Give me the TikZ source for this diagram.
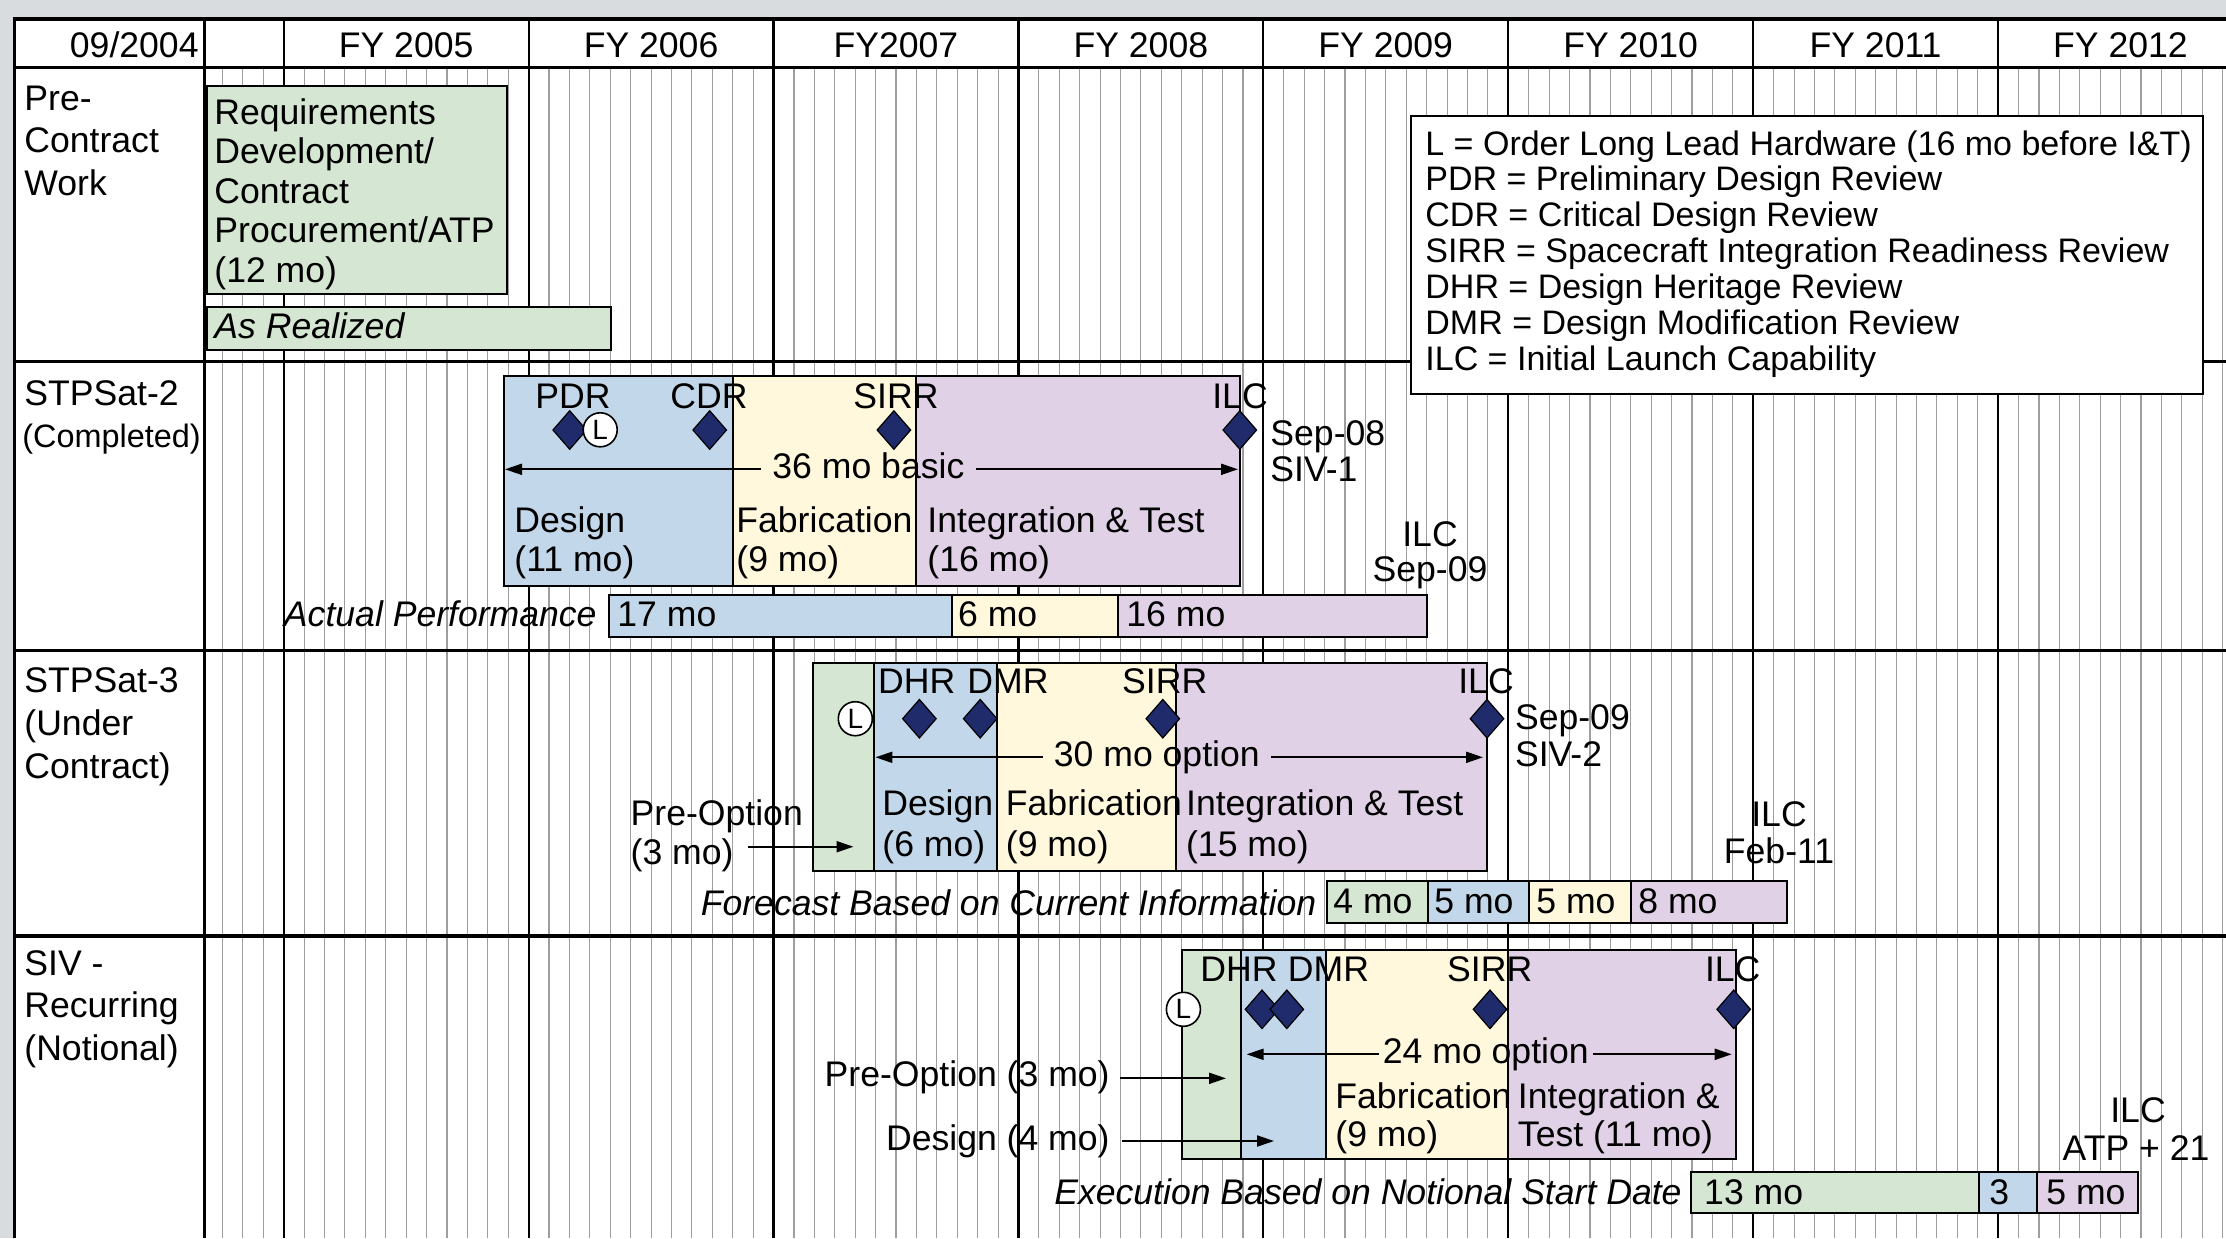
\documentclass[tikz,border=0pt]{standalone}
\usepackage{fontspec}
\setmainfont{Liberation Sans}
\usetikzlibrary{arrows.meta,shapes.geometric}
\definecolor{pagegray}{HTML}{D9DCDF}
\definecolor{gfill}{HTML}{D5E6D3}
\definecolor{bfill}{HTML}{C2D7E9}
\definecolor{yfill}{HTML}{FFF8DC}
\definecolor{pfill}{HTML}{E0D1E6}
\definecolor{navy}{HTML}{1F2B6B}
\newcommand\fsz{\fontsize{17.8}{21}\selectfont}
\newcommand\lgf{\fontsize{17}{20}\selectfont}
\newcommand\lfz{\fontsize{14}{14}\selectfont}
\begin{document}
\begin{tikzpicture}[x=0.5pt,y=-0.5pt,
  txt/.style={inner sep=0pt, anchor=base west, font=\fsz},
  ctxt/.style={inner sep=0pt, anchor=base, font=\fsz},
  rtxt/.style={inner sep=0pt, anchor=base east, font=\fsz},
  ittxt/.style={inner sep=0pt, anchor=base east, font=\fsz\itshape},
  phase/.style={draw=black, line width=1pt},
  mline/.style={draw=black!38, line width=0.55pt},
  fyline/.style={draw=black, line width=1.1pt},
  rule/.style={draw=black, line width=1.6pt},
  milestone/.style={diamond, draw=black, fill=navy, line width=0.6pt, minimum width=17pt, minimum height=19.5pt, inner sep=0pt},
  llh/.style={circle, draw=black, fill=white, line width=0.8pt, minimum size=17pt, inner sep=0pt, font=\lfz},
  arr/.style={-{Triangle[length=8.5pt,width=5.5pt]}, line width=1pt}
]
\useasboundingbox (0,0) rectangle (2226,1238);
\clip (0,0) rectangle (2226,1238);
% background and grid
\fill[pagegray] (0,0) rectangle (2226,1238);
\fill[white] (14.5,18.5) rectangle (2226,1238);
\foreach \m in {-3,...,95} \draw[mline] ({283.7+20.41*\m},68) -- ({283.7+20.41*\m},1238);
\foreach \k in {0,...,7} \draw[fyline] ({283.7+244.9*\k},18.5) -- ({283.7+244.9*\k},1238);
\draw[rule] (204.5,18.5) -- (204.5,1238);
\foreach \y in {67.5,361.5,650.8,936} \draw[rule] (14.5,\y) -- (2226,\y);
\draw[line width=2pt] (12.5,18.5) -- (2226,18.5);
\draw[line width=1.75pt] (14.5,17.5) -- (14.5,1238);
% header
\node[rtxt] (h0) at (199,57.3) {09/2004};
\foreach \t [count=\k from 0] in {FY 2005,FY 2006,FY2007,FY 2008,FY 2009,FY 2010,FY 2011,FY 2012}
  \node[ctxt] (h\k) at ({283.7+244.9*(\k+0.5)},57.3) {\t};
% row labels
\node[txt] (lab10) at (24,110) {Pre-};
\node[txt] (lab11) at (24,152.8) {Contract};
\node[txt] (lab12) at (24,195.6) {Work};
\node[txt] (lab20) at (24,405) {STPSat-2};
\node[txt, font=\fontsize{16.2}{20}\selectfont] (lab21) at (22,447) {(Completed)};
\node[txt] (lab30) at (24,692.3) {STPSat-3};
\node[txt] (lab31) at (24,735.3) {(Under};
\node[txt] (lab32) at (24,778.3) {Contract)};
\node[txt] (lab40) at (24,975) {SIV -};
\node[txt] (lab41) at (24,1017.5) {Recurring};
\node[txt] (lab42) at (24,1060) {(Notional)};
% legend
\node[draw, line width=1pt, fill=white, anchor=north west, inner sep=0pt, minimum width=396.15pt, minimum height=138.85pt] (legend) at (1409.5,115) {};
\foreach \t [count=\i from 0] in {L = Order Long Lead Hardware (16 mo before I\&T),PDR = Preliminary Design Review,CDR = Critical Design Review,SIRR = Spacecraft Integration Readiness Review,DHR = Design Heritage Review,DMR = Design Modification Review,ILC = Initial Launch Capability}
  \node[txt, font=\lgf] (lg\i) at (1425,{155+35.95*\i}) {\t};
% ---- Pre-contract ----
\draw[phase, fill=gfill] (207,86) rectangle (507,294);
\node[txt] (rq0) at (214,124) {Requirements};
\node[txt] (rq1) at (214,163.5) {Development/};
\node[txt] (rq2) at (214,203) {Contract};
\node[txt] (rq3) at (214,242.5) {Procurement/ATP};
\node[txt] (rq4) at (214,282) {(12 mo)};
\draw[phase, fill=gfill] (207,307) rectangle (611,350);
\node[txt, font=\fsz\itshape] (asr) at (214,338) {As Realized};
% ---- STPSat-2 ----
\draw[phase, fill=bfill] (504,376) rectangle (733,586);
\draw[phase, fill=yfill] (733,376) rectangle (916,586);
\draw[phase, fill=pfill] (916,376) rectangle (1240,586);
\node[milestone] (pdr2) at (569.7,430) {};
\node[llh] (l2) at (600.2,429.8) {L};
\node[milestone] (cdr2) at (709.7,430) {};
\node[milestone] (sirr2) at (893.9,430) {};
\node[milestone] (ilc2) at (1239.8,430) {};
\node[ctxt] (pdr2t) at (573,408) {PDR};
\node[ctxt] (cdr2t) at (709,408) {CDR};
\node[ctxt] (sirr2t) at (896,408) {SIRR};
\node[ctxt] (ilc2t) at (1240,408) {ILC};
\coordinate (s2L) at (505,469.3);
\coordinate (s2R) at (1238,469.3);
\node[ctxt, inner xsep=5.5pt] (s2a) at (868.4,478) {36 mo basic};
\draw[arr] (s2a.west |- s2L) -- (s2L);
\draw[arr] (s2a.east |- s2R) -- (s2R);
\node[txt] (s2d1) at (1270,445) {Sep-08};
\node[txt] (s2d2) at (1270,481.7) {SIV-1};
\node[txt] (s2p1) at (514,532.5) {Design};
\node[txt] (s2p2) at (514,571.5) {(11 mo)};
\node[txt] (s2f1) at (736,532.5) {Fabrication};
\node[txt] (s2f2) at (736,571.5) {(9 mo)};
\node[txt] (s2i1) at (927,532.5) {Integration \& Test};
\node[txt] (s2i2) at (927,571.5) {(16 mo)};
\node[ctxt] (s2c1) at (1430,546.7) {ILC};
\node[ctxt] (s2c2) at (1430,581.7) {Sep-09};
\draw[phase, fill=bfill] (608.7,595.3) rectangle (951.5,637.3);
\draw[phase, fill=yfill] (951.5,595.3) rectangle (1118.4,637.3);
\draw[phase, fill=pfill] (1118.4,595.3) rectangle (1427,637.3);
\node[ittxt] (ap) at (597,626) {Actual Performance};
\node[txt] (ap1) at (617,626.7) {17 mo};
\node[txt] (ap2) at (957.7,626.7) {6 mo};
\node[txt] (ap3) at (1126,626.7) {16 mo};
% ---- STPSat-3 ----
\draw[phase, fill=gfill] (813,662.7) rectangle (873.5,871);
\draw[phase, fill=bfill] (873.5,662.7) rectangle (997,871);
\draw[phase, fill=yfill] (997,662.7) rectangle (1176,871);
\draw[phase, fill=pfill] (1176,662.7) rectangle (1487,871);
\node[llh] (l3) at (855.3,718.7) {L};
\node[milestone] (dhr3) at (919.4,718.7) {};
\node[milestone] (dmr3) at (980.2,718.7) {};
\node[milestone] (sirr3) at (1162.8,718.7) {};
\node[milestone] (ilc3) at (1487,718.7) {};
\node[ctxt] (dhr3t) at (916.8,693.3) {DHR};
\node[ctxt] (dmr3t) at (1008,693.3) {DMR};
\node[ctxt] (sirr3t) at (1164.7,693.3) {SIRR};
\node[ctxt] (ilc3t) at (1486,693.3) {ILC};
\node[txt] (s3d1) at (1514.6,729.3) {Sep-09};
\node[txt] (s3d2) at (1514.6,766) {SIV-2};
\coordinate (s3L) at (875.4,757.3);
\coordinate (s3R) at (1483,757.3);
\node[ctxt, inner xsep=5.5pt] (s3a) at (1156.8,766.7) {30 mo option};
\draw[arr] (s3a.west |- s3L) -- (s3L);
\draw[arr] (s3a.east |- s3R) -- (s3R);
\node[txt] (s3p1) at (882,815) {Design};
\node[txt] (s3p2) at (882,856) {(6 mo)};
\node[txt] (s3f1) at (1005.5,815) {Fabrication};
\node[txt] (s3f2) at (1005.5,856) {(9 mo)};
\node[txt] (s3i1) at (1185.7,815) {Integration \& Test};
\node[txt] (s3i2) at (1185.7,856) {(15 mo)};
\node[txt] (s3o1) at (630.3,825) {Pre-Option};
\node[txt] (s3o2) at (630.3,864) {(3 mo)};
\coordinate (s3oE) at (853.5,846.7);
\draw[arr] ([xshift=7pt]s3o2.east |- s3oE) -- (s3oE);
\draw[phase, fill=gfill] (1327,881) rectangle (1428,923.3);
\draw[phase, fill=bfill] (1428,881) rectangle (1529,923.3);
\draw[phase, fill=yfill] (1529,881) rectangle (1630.6,923.3);
\draw[phase, fill=pfill] (1630.6,881) rectangle (1787,923.3);
\node[ittxt] (fc) at (1316.6,915) {Forecast Based on Current Information};
\node[txt] (fc1) at (1333,913) {4 mo};
\node[txt] (fc2) at (1434,913) {5 mo};
\node[txt] (fc3) at (1536,913) {5 mo};
\node[txt] (fc4) at (1638,913) {8 mo};
\node[ctxt] (s3c1) at (1779,826.7) {ILC};
\node[ctxt] (s3c2) at (1779,863.3) {Feb-11};
% ---- SIV recurring ----
\draw[phase, fill=gfill] (1181.7,950) rectangle (1241.4,1159.3);
\draw[phase, fill=bfill] (1241.4,950) rectangle (1326.4,1159.3);
\draw[phase, fill=yfill] (1326.4,950) rectangle (1508.3,1159.3);
\draw[phase, fill=pfill] (1508.3,950) rectangle (1735.7,1159.3);
\node[llh] (l4) at (1183.4,1009.3) {L};
\node[milestone] (dhr4) at (1262,1009.3) {};
\node[milestone] (dmr4) at (1286.8,1009.3) {};
\node[milestone] (sirr4) at (1490,1009.3) {};
\node[milestone] (ilc4) at (1733.7,1009.3) {};
\node[ctxt] (dhr4t) at (1239,981.7) {DHR};
\node[ctxt] (dmr4t) at (1328.5,981.7) {DMR};
\node[ctxt] (sirr4t) at (1489.7,981.7) {SIRR};
\node[ctxt] (ilc4t) at (1732.7,981.7) {ILC};
\coordinate (s4L) at (1246.6,1054.3);
\coordinate (s4R) at (1731.7,1054.3);
\node[ctxt, inner xsep=1.8pt] (s4a) at (1485.8,1063) {24 mo option};
\draw[arr] (s4a.west |- s4L) -- (s4L);
\draw[arr] (s4a.east |- s4R) -- (s4R);
\node[rtxt] (s4o) at (1110,1086.7) {Pre-Option (3 mo)};
\coordinate (s4oE) at (1226,1078.3);
\draw[arr] ([xshift=5pt]s4o.east |- s4oE) -- (s4oE);
\node[rtxt] (s4d) at (1110,1150.7) {Design (4 mo)};
\coordinate (s4dE) at (1274,1141);
\draw[arr] ([xshift=6pt]s4d.east |- s4dE) -- (s4dE);
\node[txt] (s4f1) at (1335,1108.3) {Fabrication};
\node[txt] (s4f2) at (1335,1146.7) {(9 mo)};
\node[txt] (s4i1) at (1517.5,1108.3) {Integration \&};
\node[txt] (s4i2) at (1517.5,1146.7) {Test (11 mo)};
\draw[phase, fill=gfill] (1691,1172.3) rectangle (1979.2,1213.3);
\draw[phase, fill=bfill] (1979.2,1172.3) rectangle (2037,1213.3);
\draw[phase, fill=pfill] (2037,1172.3) rectangle (2138,1213.3);
\node[ittxt] (ex) at (1682,1204) {Execution Based on Notional Start Date};
\node[txt] (ex1) at (1703.8,1204) {13 mo};
\node[txt] (ex2) at (1989,1204) {3};
\node[txt] (ex3) at (2046,1204) {5 mo};
\node[ctxt] (s4c1) at (2138,1122.7) {ILC};
\node[ctxt] (s4c2) at (2136,1160) {ATP + 21};
\end{tikzpicture}
\end{document}
